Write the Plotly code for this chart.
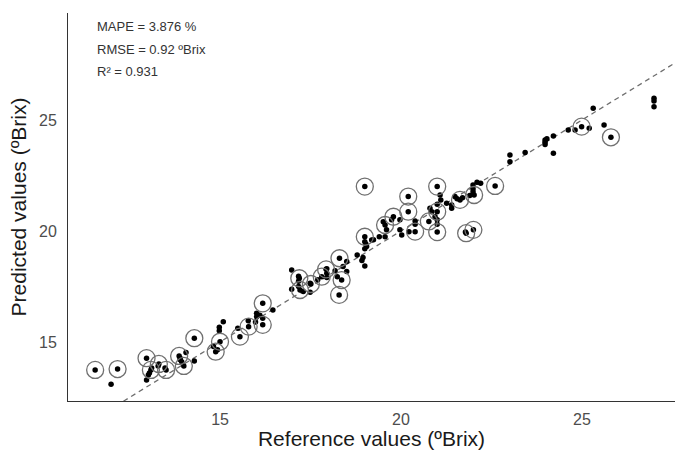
import plotly.graph_objects as go

# Circled samples (reference, predicted)
circ_ref = [11.55, 12.17, 12.97, 13.31, 13.09, 13.51, 13.87, 14.00, 14.29, 15.00, 14.88, 15.55, 15.79, 16.18, 16.18,
            17.19, 17.21, 17.51, 17.81, 17.93, 18.30, 18.36, 18.29, 19.00,
            19.00, 19.56, 19.79, 20.20, 20.20, 20.39, 21.00, 21.00, 20.77, 21.00, 21.63, 22.02, 22.60, 21.80, 22.00,
            24.99, 25.80]
circ_pred = [13.74, 13.78, 14.27, 14.01, 13.74, 13.74, 14.37, 13.92, 15.17, 15.01, 14.56, 15.24, 15.69, 15.77, 16.74,
             17.87, 17.34, 17.61, 17.94, 18.27, 18.77, 17.79, 17.12, 19.74,
             22.00, 20.27, 20.64, 21.55, 20.87, 19.97, 22.00, 20.87, 20.43, 19.95, 21.40, 21.62, 22.03, 19.90, 20.05,
             24.70, 24.22]

# Other samples (reference, predicted)
dot_ref = [11.99, 13.02, 12.97, 13.11, 13.29, 13.48, 13.90, 13.94, 14.06, 14.29, 15.09, 14.98, 14.98, 14.82, 14.93,
           15.49, 15.78, 16.01, 16.01, 16.10, 16.18, 16.46, 15.98, 13.05, 13.90,
           16.98, 17.17, 17.17, 17.17, 16.98, 17.30, 17.49, 17.49, 17.95, 17.95, 17.95, 18.18, 18.24, 17.70,
           18.50, 18.50, 18.40, 18.79, 18.92, 18.95, 19.00, 19.03, 19.05, 19.19, 19.56, 19.40, 19.00,
           19.51, 19.60, 19.74, 19.97, 19.97, 20.02, 19.24, 19.00,
           20.39, 20.39, 20.22, 20.80, 20.85, 21.08, 21.10, 21.00, 20.94, 21.00, 21.00, 21.26, 21.40, 21.49,
           21.55, 21.40, 21.99, 21.99, 21.99, 22.10, 22.20, 21.90, 21.70, 21.78,
           23.01, 23.01, 23.43, 23.98, 23.98, 24.03, 23.98, 24.21, 24.21, 24.62, 24.81, 25.20, 25.31, 25.61,
           26.99, 26.99, 26.99]
dot_pred = [13.09, 13.51, 13.29, 13.83, 13.92, 13.83, 14.27, 14.11, 14.53, 14.14, 15.91, 15.66, 15.51, 14.79, 14.65,
            15.62, 15.96, 16.29, 16.14, 16.20, 16.07, 16.44, 15.90, 13.60, 14.20,
            18.24, 17.96, 17.73, 17.50, 17.37, 17.27, 17.64, 17.24, 18.30, 18.10, 17.90, 18.21, 17.94, 17.80,
            18.62, 18.17, 18.40, 18.92, 18.67, 18.80, 18.42, 19.41, 19.30, 19.59, 19.74, 19.74, 19.20,
            20.42, 20.05, 20.50, 20.50, 20.05, 19.82, 19.60, 19.52,
            20.45, 20.30, 19.97, 21.02, 20.87, 21.62, 21.40, 21.20, 20.64, 20.50, 20.30, 21.25, 21.17, 21.55,
            21.45, 21.02, 22.07, 21.90, 21.77, 22.20, 22.15, 21.60, 21.50, 19.95,
            23.42, 23.12, 23.53, 24.10, 24.00, 24.15, 23.90, 24.28, 23.50, 24.55, 24.55, 24.63, 25.53, 24.77,
            25.98, 25.85, 25.60]

x_ticks = [15, 20, 25]
y_ticks = [15, 20, 25]
x_range = [10.8, 27.57]
y_range = [12.34, 29.82]
stats_lines = ["MAPE = 3.876 %", "RMSE = 0.92 ºBrix", "R² = 0.931"]

fig = go.Figure()

# 1:1 line
fig.add_trace(go.Scatter(x=[10, 28], y=[10, 28], mode="lines",
                         line=dict(color="#6e6e6e", width=1.3, dash="5px,4px"),
                         hoverinfo="skip", showlegend=False))

# all points as small black dots
fig.add_trace(go.Scatter(x=dot_ref + circ_ref, y=dot_pred + circ_pred, mode="markers",
                         marker=dict(color="black", size=5.5, line=dict(width=0)),
                         showlegend=False))

# open circles around selected samples
fig.add_trace(go.Scatter(x=circ_ref, y=circ_pred, mode="markers",
                         marker=dict(symbol="circle-open", color="#707070", size=17,
                                     line=dict(width=1.3, color="#707070")),
                         showlegend=False))

for i, t in enumerate(stats_lines):
    fig.add_annotation(text=t, xref="paper", yref="paper", x=(95 - 68) / 607,
                       y=1 - ((27 + 22 * i) - 13) / 388, xanchor="left", yanchor="middle",
                       showarrow=False, font=dict(family="Liberation Sans, Arial", size=13, color="#333333"))

fig.update_layout(
    width=675, height=450,
    margin=dict(l=68, r=0, t=13, b=49),
    plot_bgcolor="white", paper_bgcolor="white",
    font=dict(family="Liberation Sans, Arial"),
    xaxis=dict(range=x_range, tickvals=x_ticks, showgrid=False, zeroline=False,
               showline=True, linecolor="#333333", linewidth=1, ticks="",
               ticklabelstandoff=4,
               tickfont=dict(size=16, color="#4d4d4d"),
               title=dict(text="Reference values (ºBrix)", font=dict(size=21, color="#1a1a1a"), standoff=2)),
    yaxis=dict(range=y_range, tickvals=y_ticks, showgrid=False, zeroline=False,
               showline=True, linecolor="#333333", linewidth=1, ticks="",
               ticklabelstandoff=7,
               tickfont=dict(size=16, color="#4d4d4d"),
               title=dict(text="Predicted values (ºBrix)", font=dict(size=21, color="#1a1a1a"), standoff=6)),
)

fig.write_html("out.html")
